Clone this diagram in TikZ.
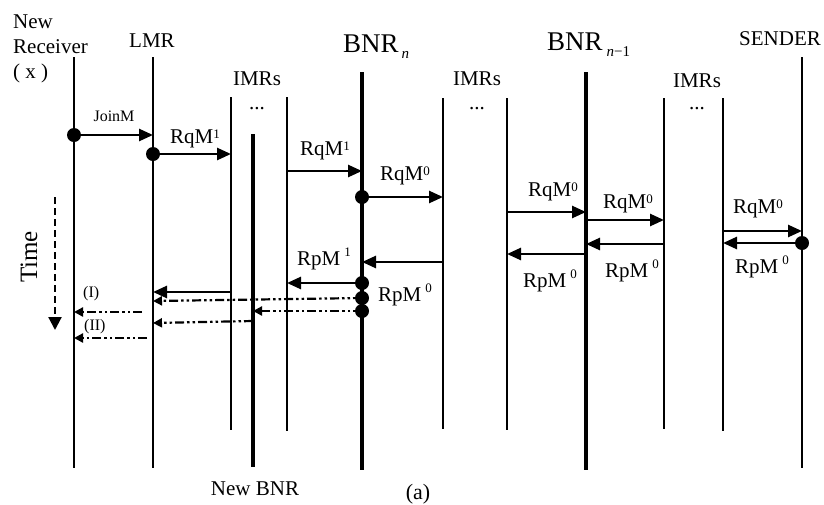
\documentclass[tikz,border=0pt]{standalone}
\usepackage{fontspec}
\setmainfont{Liberation Serif}
\usetikzlibrary{arrows.meta}
% message labels with raised indices
\newcommand\reqlbl[1]{RqM\raisebox{5pt}{\fontsize{13}{13}\selectfont #1}}
\newcommand\replbl[1]{RpM\hspace{4pt}\raisebox{9pt}{\fontsize{13}{13}\selectfont #1}}
\newcommand\subidx[1]{\raisebox{-6pt}{\fontsize{15}{15}\selectfont #1}}
\begin{document}
\begin{tikzpicture}[x=1pt,y=-1pt,
  life/.style={line width=1.2pt},
  bnrline/.style={line width=3.2pt},
  msg/.style={line width=2.6pt,-{Triangle[length=14pt,width=12pt]}},
  ddot/.style={line width=2.2pt,
    dash pattern=on 9pt off 3pt on 2.5pt off 3pt on 2.5pt off 3pt,
    -{Triangle[length=9pt,width=9pt]}},
  evt/.style={circle,fill=black,inner sep=0pt,minimum size=14pt},
  txt/.style={inner sep=0pt,font=\fontsize{21}{25}\selectfont},
  big/.style={inner sep=0pt,font=\fontsize{27}{30}\selectfont},
  small/.style={inner sep=0pt,font=\fontsize{16}{18}\selectfont},
]
\useasboundingbox (0,0) rectangle (824,504);

% ---- lifelines ----
\coordinate (rx)   at (74,57);   \coordinate (rxE)   at (74,468);
\coordinate (lmr)  at (153,57);  \coordinate (lmrE)  at (153,468);
\coordinate (ia1)  at (231,97);  \coordinate (ia1E)  at (231,430);
\coordinate (nbnr) at (253,134); \coordinate (nbnrE) at (253,467);
\coordinate (ia2)  at (287,97);  \coordinate (ia2E)  at (287,431);
\coordinate (bn)   at (362,72);  \coordinate (bnE)   at (362,470);
\coordinate (ib1)  at (443,98);  \coordinate (ib1E)  at (443,429);
\coordinate (ib2)  at (507,98);  \coordinate (ib2E)  at (507,430);
\coordinate (bn1)  at (586,72);  \coordinate (bn1E)  at (586,470);
\coordinate (ic1)  at (664,98);  \coordinate (ic1E)  at (664,429);
\coordinate (ic2)  at (723,98);  \coordinate (ic2E)  at (723,431);
\coordinate (snd)  at (802,57);  \coordinate (sndE)  at (802,468);

\foreach \a in {rx,lmr,ia1,ia2,ib1,ib2,ic1,ic2,snd}
  \draw[life] (\a) -- (\a E);
\foreach \a in {nbnr,bn,bn1}
  \draw[bnrline] (\a) -- (\a E);

% ---- headings ----
\node[txt,anchor=base west] (hNew) at (13,28) {New};
\node[txt,anchor=base west] (hRec) at (13,53) {Receiver};
\node[txt,anchor=base west] (hX)   at (13,78) {( x )};
\node[txt,anchor=base] (hLMR) at (152,47) {LMR};
\node[big,anchor=base west] (hBn)  at (343,52) {BNR\hspace{3pt}\subidx{\itshape n}};
\node[big,anchor=base west] (hBn1) at (547,50) {BNR\hspace{4pt}\subidx{\itshape n\upshape −1}};
\node[txt,anchor=base] (hSnd) at (780,45) {SENDER};
\node[txt,anchor=base] (hIa) at (257,85) {IMRs};
\node[txt,anchor=base] (hIb) at (477,85) {IMRs};
\node[txt,anchor=base] (hIc) at (697,87) {IMRs};
\node[txt,anchor=base] (dIa) at (257,109) {...};
\node[txt,anchor=base] (dIb) at (477,109) {...};
\node[txt,anchor=base] (dIc) at (697,109) {...};
\node[txt,anchor=base] (hNewBNR) at (255,495) {New BNR};
\node[inner sep=0pt,font=\fontsize{22}{24}\selectfont,anchor=base] (cap) at (418,499) {(a)};

% ---- time axis ----
\coordinate (t0) at (55,197);
\coordinate (t1) at (55,330);
\draw[line width=2.2pt,dash pattern=on 7pt off 4pt,
      -{Triangle[length=13pt,width=13pt]}] (t0) -- (t1);
\node[inner sep=0pt,font=\fontsize{25}{28}\selectfont,rotate=90,anchor=base] (tLbl) at (37,257) {Time};

% ---- events ----
\node[evt] (d1) at (74,135) {};
\node[evt] (d2) at (153,154) {};
\node[evt] (d3) at (362,197) {};
\node[evt] (d4) at (802,243) {};
\node[evt] (d5) at (362,283) {};
\node[evt] (d6) at (362,298) {};
\node[evt] (d7) at (362,311) {};

% ---- requests ----
\draw[msg] (d1.center) -- (lmr |- d1);
\node[small,anchor=base] (lJoin) at (114,121) {JoinM};
\draw[msg] (d2.center) -- (ia1 |- d2);
\node[txt,anchor=base west] (l2) at (170,143) {\reqlbl{1}};
\draw[msg] (ia2 |- 0,171) -- (bn |- 0,171);
\node[txt,anchor=base west] (l3) at (300,155) {\reqlbl{1}};
\draw[msg] (d3.center) -- (ib1 |- d3);
\node[txt,anchor=base west] (l4) at (380,180) {\reqlbl{0}};
\draw[msg] (ib2 |- 0,212) -- (bn1 |- 0,212);
\node[txt,anchor=base west] (l5) at (528,196) {\reqlbl{0}};
\draw[msg] (bn1 |- 0,220) -- (ic1 |- 0,220);
\node[txt,anchor=base west] (l6) at (603,208) {\reqlbl{0}};
\draw[msg] (ic2 |- 0,231) -- (snd |- 0,231);
\node[txt,anchor=base west] (l7) at (733,213) {\reqlbl{0}};

% ---- replies ----
\draw[msg] (d4.center) -- (ic2 |- d4);
\node[txt,anchor=base west] (l8) at (735,273) {\replbl{0}};
\draw[msg] (ic1 |- 0,244) -- (bn1 |- 0,244);
\node[txt,anchor=base west] (l9) at (605,277) {\replbl{0}};
\draw[msg] (bn1 |- 0,254) -- (ib2 |- 0,254);
\node[txt,anchor=base west] (l10) at (523,287) {\replbl{0}};
\draw[msg] (ib1 |- 0,262) -- (bn |- 0,262);
\node[txt,anchor=base west] (l11) at (297,265) {\replbl{1}};
\draw[msg] (d5.center) -- (ia2 |- d5);
\node[txt,anchor=base west] (l12) at (378,301) {\replbl{0}};
\draw[msg] (ia1 |- 0,292) -- (lmr |- 0,292);

% ---- forwarding paths (I) and (II) ----
\draw[ddot] (d6.center) -- (lmr |- 0,301);
\draw[ddot] (d7.center) -- (nbnr |- d7);
\coordinate (p1) at (142,312);
\draw[ddot] (p1) -- (rx |- p1);
\node[small,anchor=base west] (lI) at (83,297) {(I)};
\draw[ddot] (nbnr |- 0,321) -- (lmr |- 0,323);
\coordinate (p2) at (147,338);
\draw[ddot] (p2) -- (rx |- p2);
\node[small,anchor=base west] (lII) at (84,330) {(II)};
\end{tikzpicture}
\end{document}
